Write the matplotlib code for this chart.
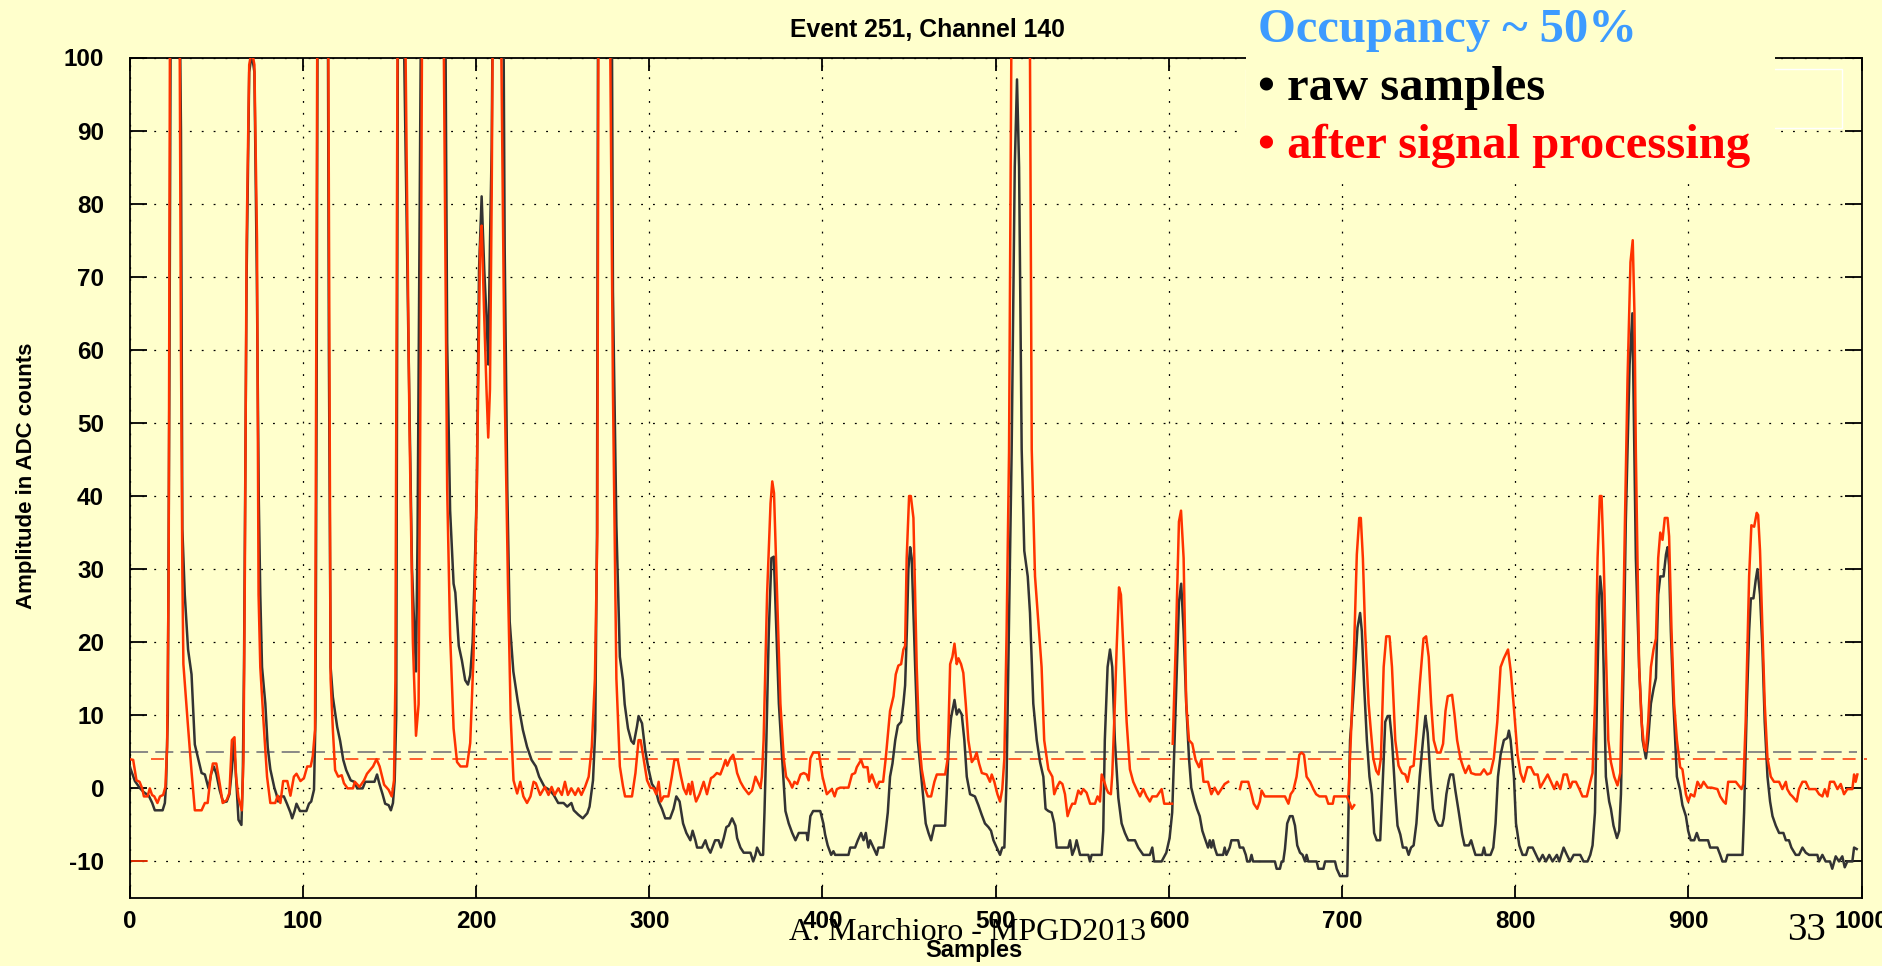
import numpy as np
import matplotlib
matplotlib.use("Agg")
import matplotlib.pyplot as plt
from matplotlib.patches import Rectangle

# raw ADC samples (sample index, amplitude); peaks above 100 run off the frame
raw_trace = [
    (0, 3), (3, 1), (6, 0), (8, -0.5), (11, -1), (13, -2), (14.5, -3), (19, -3), (20.3, -2),
    (21, 0.5), (22, 10), (23, 60), (24, 130), (28, 130), (29.6, 90), (30.4, 35.5), (31.8, 26.5),
    (33.7, 19), (35.7, 15.6), (37.6, 6), (39.5, 4.1), (41.5, 2.1), (43.4, 1.9), (45.5, 0),
    (47, 2), (48.5, 3), (50, 2), (52, -0.3), (54, -1.9), (56, -1.8), (57.6, -0.8), (59, 2.6),
    (60, 6.6), (61.4, 1.6), (62.8, -4.3), (64.5, -5), (65.3, 1.6), (66, 16.6), (67.5, 70),
    (69, 98), (70.5, 100.5), (72, 98), (73.4, 70), (74.5, 40), (75.4, 26.5), (76.4, 16.6),
    (78.3, 11.6), (79.7, 5.6), (81.2, 2.6), (83.5, 0.1), (84.7, -0.8), (85.7, -1.8), (87, -1.1),
    (89, -1.1), (90.8, -2.1), (92.8, -3.3), (93.8, -4.1), (95.2, -3.1), (96.3, -2.1),
    (98.3, -3.1), (102, -3.1), (103.5, -2.1), (104.8, -1.8), (106.4, -0.2), (107.3, 10),
    (108, 60), (108.8, 140), (114, 140), (115, 60), (116, 16.6), (117.3, 12.5), (119.8, 8.4),
    (121.5, 6.5), (123.3, 3.9), (125, 2.5), (127.6, 1.1), (129.6, 0.9), (131.4, 0), (134.5, 0),
    (136, 0.9), (141.3, 0.9), (142.8, 1.9), (144.2, 0.6), (146, -0.8), (147.5, -2.1),
    (149.5, -2.3), (150.8, -3), (152, -2), (153, 1.1), (153.9, 10), (155, 120), (158, 120),
    (158.5, 100), (161, 60), (163, 30), (165.3, 16), (166.2, 34.7), (168, 100), (168.5, 130),
    (181.5, 130), (182.4, 100), (183.3, 61), (185, 38), (187, 28), (188, 26.8), (190, 19.5),
    (191.8, 17.5), (193.7, 14.8), (195.3, 14.2), (196.6, 15.5), (198, 20), (199, 28),
    (200.4, 41), (201.7, 71), (203.2, 81), (204.7, 71), (206, 64.5), (207, 58), (208, 74.4),
    (209, 87.7), (210, 120), (215.5, 120), (216.5, 74), (218, 41), (219.4, 22.8), (221.5, 16),
    (224, 12), (227, 8), (229.4, 5.7), (232, 3.9), (234.5, 3), (236.4, 1.6), (239.5, 0.2),
    (242.3, -0.2), (244.8, -0.9), (247.4, -2), (250.5, -2), (252.6, -2.5), (255, -2),
    (256.4, -3), (259, -3.6), (261.6, -4.1), (264.2, -3.4), (265.5, -2.5), (267.5, 1.1),
    (268.8, 8), (269.8, 35), (270.6, 130), (278, 130), (279, 68), (281, 36), (283, 18),
    (284.8, 14.8), (285.8, 11.5), (287.7, 8.2), (289.6, 6.5), (291, 6.1), (292.9, 8.5),
    (293.8, 9.9), (295.8, 8.9), (297.7, 5.1), (299.6, 2.6), (301.5, 0.6), (303.5, -0.1),
    (305.4, -1.8), (307.3, -2.8), (309.2, -4.1), (312, -4.1), (314, -2.8), (315.6, -1.1),
    (317.5, -1.8), (319.5, -4.8), (321.4, -6.1), (323.7, -7.1), (325, -5.8), (326.6, -7.1),
    (327.6, -8.1), (330.4, -8.1), (332.4, -7.1), (333.7, -8.1), (335.3, -8.8), (338, -7.1),
    (340, -7.1), (341.4, -8.1), (343, -6.8), (344.5, -5.3), (345.9, -5.1), (347.8, -4.1),
    (349.7, -5.1), (350.7, -6.8), (352.6, -8.1), (354.5, -8.8), (358.4, -8.8), (360, -10),
    (361.3, -9.1), (362.2, -8.1), (364.2, -9.1), (365.7, -9.1), (366.5, -3.3), (367.6, 6.6),
    (369, 21.5), (370.5, 31.5), (371.9, 31.7), (373.4, 21.5), (374.8, 11.6), (376.7, 4.1),
    (378.6, -3.1), (380.5, -4.8), (382.5, -6.1), (384.4, -7.1), (386.3, -6.1), (390.8, -6.1),
    (391.5, -7.1), (393, -3.8), (394.6, -3.1), (398.7, -3.1), (400.5, -4.8), (401.5, -6.3),
    (403, -7.8), (405, -9.1), (406.3, -8.6), (407.3, -9.1), (415, -9.1), (416, -8.1),
    (418.8, -8.1), (420.4, -7.1), (422.3, -6.1), (423.7, -7.1), (425, -6.1), (426.5, -8.1),
    (427.5, -7.1), (429.4, -8.1), (431.3, -9.1), (432.3, -8.1), (435.2, -8.1), (436.5, -5.8),
    (437.7, -3.3), (439, 1.6), (440.4, 3.4), (442, 6.6), (443.5, 8.6), (445.4, 9.1),
    (446.7, 11.6), (447.7, 14.1), (448.7, 21.5), (449.6, 30), (450.6, 33), (451.5, 31.5),
    (452.5, 24), (453.5, 16.6), (455, 6.6), (457, 1.6), (458.3, -1.8), (459.6, -4.8),
    (461.2, -6.1), (462.7, -7.1), (464.6, -5.1), (470.8, -5.1), (471.7, -0.8), (473, 6.6),
    (474.2, 9.6), (476.2, 12.1), (477.5, 10.1), (478.8, 10.8), (480.4, 10.1), (481.9, 6.6),
    (483.3, 1.6), (485.2, -0.8), (488, -1.1), (490, -2.3), (491.9, -3.6), (493.8, -4.8),
    (495.8, -5.3), (497.3, -5.8), (498.7, -7.1), (500.6, -8.1), (502.5, -9.1), (503.8, -8.1),
    (505, -8.1), (506.3, 1.6), (507.3, 16.6), (509.2, 46), (511, 85), (512.3, 97), (513.5, 85),
    (515, 46.4), (516.5, 32.5), (518.5, 29), (519.8, 24), (521.7, 11.6), (523.7, 6.6),
    (525.6, 3.6), (527.5, 1.6), (528.8, -2.8), (530.4, -3.1), (532.3, -3.3), (533.8, -4.8),
    (535.2, -8.1), (541.9, -8.1), (542.9, -7.1), (544.2, -9.1), (545.8, -8.1), (546.7, -7.1),
    (548.7, -9.1), (553.5, -9.1), (554.4, -10), (555.4, -9.1), (561.2, -9.1), (562.1, -5.8),
    (563, 6.6), (564.6, 16.6), (566, 19), (567.3, 16.6), (568.8, 6.6), (570.8, -1.3),
    (572.7, -4.8), (574.6, -6.1), (576.5, -7.1), (580.4, -7.1), (582.3, -8.1), (585.2, -9.1),
    (589, -9.1), (590.4, -8.1), (591.5, -10), (595.8, -10), (598.5, -8.8), (600.4, -6.8),
    (601.9, -3.3), (603.3, 6.6), (604.6, 16.6), (605.8, 25.5), (607.1, 28), (608.5, 21.5),
    (610, 11.6), (611.6, 4.1), (612.9, 0.1), (614.9, -1.8), (616.2, -2.8), (617.8, -3.8),
    (619.3, -5.8), (620.7, -6.8), (622.6, -8.1), (623.6, -7.1), (624.5, -8.1), (625.5, -7.1),
    (626.4, -8.1), (627.8, -9.1), (631.3, -9.1), (632.2, -8.1), (633.2, -9.1), (635.1, -8.1),
    (636.1, -7.1), (640, -7.1), (640.9, -8.1), (642.9, -8.1), (644.4, -9.1), (645.2, -10),
    (646.7, -10), (647.7, -9.1), (648.6, -10), (661.2, -10), (662.2, -11), (664.1, -11),
    (665.1, -10), (666, -10), (667, -8.3), (668.3, -4.8), (669.9, -3.8), (671.4, -3.8),
    (672.8, -5.1), (674.1, -7.8), (675.7, -8.8), (677.2, -9.1), (678.6, -10), (679.5, -9.1),
    (680.5, -10), (685.3, -10), (686.3, -11), (689.2, -11), (690.2, -10), (695.9, -10),
    (696.9, -11), (698.8, -12), (703, -12), (703.7, -3.3), (704.6, 6.6), (706.2, 11.6),
    (707.5, 16.6), (708.9, 22), (710.4, 24), (711.4, 21.5), (712.7, 14.1), (714.3, 6.6),
    (715.8, 1.6), (717.2, -0.8), (718.5, -6.1), (720, -7.1), (722, -7.1), (723.6, 1.6),
    (724.9, 9.1), (726.3, 9.9), (727.4, 9.9), (728.8, 6.6), (730.7, -0.8), (732, -5.1),
    (733.6, -6.3), (735.1, -8.1), (737.1, -8.1), (738.4, -9.1), (739.8, -8.1), (741.3, -7.8),
    (742.9, -4.8), (744.8, 1.6), (746.7, 6.6), (748.1, 9.9), (749.4, 7.6), (751, 1.6),
    (752.5, -2.8), (753.9, -4.3), (755.8, -5.1), (757.7, -5.1), (758.7, -4.1), (760.2, -0.8),
    (761.6, 1.1), (762.5, 1.9), (764.1, 1.9), (765.4, -0.3), (767.4, -3.3), (769.3, -6.3),
    (770.7, -7.8), (773.2, -7.8), (774.5, -7.1), (775.7, -8.1), (777, -9.1), (780.9, -9.1),
    (781.9, -8.1), (782.8, -9.1), (785.7, -9.1), (787.3, -8.1), (788.6, -4.8), (790, 1.6),
    (791.5, 4.6), (793.4, 6.6), (795.4, 6.9), (796.3, 7.9), (797.3, 6.6), (799.2, 1.6),
    (800.4, -4.8), (802.3, -7.8), (804.2, -9.1), (806.2, -9.1), (807.5, -8.1), (810, -8.1),
    (812, -9.1), (813.8, -10), (815.8, -9.1), (817.7, -10), (819.6, -9.1), (821.5, -10),
    (824, -9.1), (825.4, -10), (827.9, -8.1), (829.8, -9.1), (831.7, -10), (833.7, -9.1),
    (837.5, -9.1), (839.4, -10), (841.7, -10), (843.3, -9.1), (844.6, -7.8), (846, -3.3),
    (847.1, 11.6), (848.5, 26.5), (849, 29), (850, 26.5), (851, 16.6), (852.3, 1.6),
    (854.2, -1.8), (855.2, -2.8), (856.7, -5.1), (858.7, -6.8), (860, -5.8), (861, -0.8),
    (862.5, 16.6), (863.8, 36.5), (866, 58), (867.6, 65), (869.6, 31.5), (871.5, 16.6),
    (873.5, 6.6), (875.4, 4.1), (876.7, 6.6), (878.3, 11.6), (879.8, 13.6), (881.2, 15.1),
    (882.5, 26.5), (883.7, 29), (885.6, 29), (887, 32), (887.9, 33), (888.8, 30.5),
    (889.8, 21.5), (891.3, 11.6), (893.3, 1.6), (895.2, -0.3), (896.5, -2.3), (898.5, -3.8),
    (899.8, -5.8), (901.3, -7.1), (903.3, -7.1), (904.8, -6.1), (906.2, -7.1), (911.3, -7.1),
    (912.5, -8.1), (916.7, -8.1), (918.3, -9.1), (919.6, -10), (921.5, -10), (922.5, -9.1),
    (931.2, -9.1), (932.1, -3.3), (933.7, 11.6), (935, 21.5), (936, 26), (937.5, 26),
    (938.8, 28.5), (939.8, 30), (941.3, 26.5), (942.7, 19), (944, 9.1), (945.6, 1.6),
    (947.1, -1.8), (948.5, -3.8), (950.4, -5.1), (952.3, -6.1), (954.8, -6.1), (956.2, -7.1),
    (958, -7.1), (959.4, -8.1), (961.9, -9.1), (963.8, -9.1), (965.8, -8.1), (967.7, -8.8),
    (969.6, -9.1), (974.4, -9.1), (975.4, -10), (977.3, -9.1), (979.2, -10), (981.7, -10),
    (983, -11), (985, -9.3), (986.9, -10), (988.8, -9.3), (990.2, -10.8), (991.7, -10),
    (994.6, -10), (995.6, -8.1), (997.1, -8.3),
]

# after signal processing; None marks a break in the trace
proc_trace = [
    (0, 4), (2, 3.9), (3.9, 1.1), (5.7, 0.9), (7.2, 0), (8.2, -1.1), (10.3, -1.1), (11.6, 0),
    (12.9, -0.9), (14.2, -1.1), (16, -2), (17.5, -1.1), (19.3, -0.9), (20.6, 0.2), (21.6, 5.7),
    (22.5, 30), (23.3, 110), (24.5, 140), (27.5, 140), (28.9, 100), (29.6, 60), (30.4, 29.5),
    (31, 17), (33.5, 9), (35.6, 2.6), (37.6, -3), (41.5, -3), (43.4, -2), (45, -2), (46.7, 1.6),
    (48, 3.4), (50, 3.4), (52, 0.6), (53.7, -2), (56, -1.6), (57.6, -0.6), (59, 6.6),
    (60.5, 7), (61.4, 1.6), (62.8, -1.3), (64.7, -3), (65.7, 4), (66.5, 30), (67.5, 75),
    (69, 99), (70.5, 101), (72, 99), (73.5, 75), (74.4, 26.5), (75.4, 16.6), (77.3, 9),
    (79.3, 1.6), (81.2, -2), (84, -2), (85.5, -1), (87, -2), (88.6, 1), (91, 1), (92.8, -1),
    (94.8, 1.6), (96.3, 2), (98.6, 1), (100.6, 1.4), (102.5, 3), (104.5, 3), (105.7, 4.4),
    (107, 8), (108.2, 100), (109, 140), (114, 140), (114.7, 100), (116, 15), (117.3, 8),
    (118.6, 2.5), (120.4, 1.6), (122.4, 1.8), (123.7, 0.7), (125.8, 0), (128.9, 0), (130, 0.9),
    (132.7, 0.2), (135.3, 1.1), (137, 2), (140.5, 3), (142.5, 4), (144.3, 3), (146.9, 0.5),
    (149.5, -0.2), (151.3, -1.1), (152.6, 1.1), (153.4, 14.8), (154.6, 100), (155.5, 130),
    (158.5, 130), (159.3, 100), (161.5, 50), (163.5, 20), (165.3, 7.2), (166.8, 11.5),
    (168, 60), (168.7, 100), (169.5, 140), (180.5, 140), (181.4, 100), (183.3, 41), (185, 21),
    (187, 8.2), (189, 3.6), (191, 3), (194.7, 3), (196.6, 6.2), (198.5, 18), (200.4, 41),
    (202.3, 74), (203.2, 77), (204.7, 64.5), (206, 54.6), (207, 48), (208, 54.6), (209, 81),
    (209.5, 100), (210.5, 140), (213.5, 140), (214.6, 100), (216.5, 54.6), (218.4, 28),
    (220, 9.5), (221.6, 1.1), (223.7, -0.7), (225.5, 0.9), (227.3, -1.1), (229.4, -2),
    (231.4, -1.1), (233.2, 0.9), (234.5, 0.7), (237, -0.9), (239.7, 0.2), (241.8, -0.9),
    (243.6, 0.2), (245.4, -0.9), (247.4, 0), (249.5, -0.9), (251.3, 0.9), (253, -0.9),
    (255, 0), (257.2, -0.9), (259, 0), (260.8, -0.9), (262.9, 0.2), (265, 1.6), (266.8, 5.7),
    (268.6, 15), (270, 35), (270.6, 100), (271.5, 140), (276.5, 140), (277.5, 100),
    (279, 54.6), (281, 15), (283, 3), (284.8, 0.3), (286, -1.1), (290, -1.1), (292, 2.1),
    (293.8, 6.6), (295, 6.6), (296.7, 4.1), (298.7, 1.1), (300.6, 0.1), (302.5, 0),
    (304, -0.8), (305.4, 0.9), (306.7, -1.8), (308.3, -1.1), (311, -1.1), (313, 1.6),
    (314.5, 3.9), (316.4, 3.9), (318.3, 1.6), (319.8, 0), (321.4, -0.8), (322.7, 0.6),
    (323.7, -0.8), (324.7, 0.9), (326, -0.8), (327, -1.8), (329, -0.8), (331.4, 0.9),
    (333.3, -0.8), (335.6, 1.4), (337, 1.6), (339, 2.1), (341, 1.9), (342.6, 2.9), (344, 3.9),
    (345, 3.1), (346.8, 4.1), (348.4, 4.6), (349.7, 3.4), (350.7, 2.1), (352.6, 0.9),
    (354.5, 0.1), (357.4, -0.8), (359.3, -0.3), (361.3, 1.6), (362.6, 0.9), (364.2, 0.1),
    (365, 1.6), (366, 6.6), (368, 26.5), (370, 39), (371, 42), (372, 40.4), (373.8, 26.5),
    (375.7, 11.6), (377.6, 4.1), (379, 1.6), (381, 0.9), (382.5, 0.1), (383.8, 0.9),
    (385.4, 0.6), (387.3, 1.9), (389.2, 2.1), (390.8, 1.9), (392, 1.1), (393, 4.1),
    (394.6, 4.9), (397.9, 4.9), (400, 1.6), (402.5, -0.8), (405.4, -0.1), (407, -1.1),
    (408.3, -0.1), (410.2, 0.1), (415, 0.1), (417, 1.9), (418.8, 2.1), (419.8, 2.9),
    (422.3, 3.9), (423.7, 2.9), (426, 2.9), (427, 0.9), (428.5, 1.9), (430, 0.9), (431.3, 0.1),
    (432.7, 0.9), (435, 0.9), (436.5, 4.1), (439, 10.6), (441, 12.6), (442.3, 15.6),
    (443.8, 16.8), (445.4, 17), (446.7, 19), (447.7, 19.5), (448.6, 31.5), (450, 40),
    (451, 40), (452.5, 37), (453.5, 26.5), (454.4, 16.6), (455.8, 6.6), (457.3, 2.6),
    (459.2, 0), (460.8, -1.1), (462.7, -1.1), (464.6, 0.9), (466, 1.9), (470.8, 1.9),
    (472.3, 4.1), (473.7, 17), (475, 18), (476.2, 19.8), (477.5, 17), (478.5, 17.8),
    (480, 17), (481.3, 15.8), (482.7, 11.6), (484.2, 6.6), (486.2, 3.6), (487.7, 4.1),
    (489, 4.9), (490.4, 3.4), (492, 2.1), (494.8, 1.9), (496.7, 0.9), (497.7, 1.9),
    (499.2, 0.9), (501, -0.8), (502.5, -1.8), (503.8, -0.1), (505, 4.1), (506.3, 21.5),
    (507.7, 46), (509, 100), (510, 140), (519, 140), (519.8, 100), (520.8, 46.4), (522.7, 29),
    (525, 21.5), (526.5, 16.6), (528, 6.6), (530.4, 2.6), (532.7, 1.6), (533.8, -0.8),
    (535.2, 0.1), (537, 0.9), (538.5, 0.6), (540, -0.8), (541.5, -3.8), (542.9, -2.8),
    (544.2, -2.1), (545.8, -2.1), (547.7, -0.3), (549.2, -0.8), (550.6, -0.1), (552.5, -0.6),
    (554.5, -2.1), (557.3, -2.1), (558.8, -1.1), (560.2, -1.8), (561.2, 1.9), (562.7, 0.9),
    (564, -0.1), (565, -0.6), (566.5, -0.8), (567.3, 1.9), (568.8, 11.6), (569.8, 19),
    (571.2, 27.5), (572.3, 26.5), (573.7, 19), (575.6, 9.1), (577.5, 2.6), (579.4, 0.9),
    (581.3, -0.1), (583.3, -1.1), (585.2, -0.1), (587.1, -1.1), (589, -1.8), (590.4, -1.1),
    (593, -1.1), (595.8, -0.1), (597.3, -2.1), (601.8, -2.1), None,
    (602.2, 6.1), (604, 20), (605.8, 36.5), (607, 38), (608.5, 31.5), (610, 11.6),
    (611.6, 6.6), (613.5, 6.1), (615.4, 3.9), (617.4, 2.9), (618.7, 3.9), (620, 0.9),
    (622.6, 0.9), (624.5, -0.8), (626.4, 0.1), (628.4, -0.8), (630.3, -0.1), (632.2, 0.6),
    (634.2, 0.9), None,
    (641, -0.1), (642, 0.9), (645.8, 0.9), (647.7, -0.8), (649, -2.1), (651, -2.8),
    (652.5, -1.8), (653.5, -0.3), (655.4, -1.1), (667, -1.1), (669, -2.1), (670.3, -0.8),
    (671.8, -0.3), (673.7, 1.6), (675.3, 4.6), (676.6, 4.9), (678, 4.6), (679.5, 1.6),
    (681.5, 0.9), (683.4, -0.1), (685, -0.8), (686.9, -1.1), (690.7, -1.1), (692, -2.1),
    (694.6, -2.1), (695.4, -1.1), (702.7, -1.1), (704.6, -2.1), (705.6, -2.8), (707, -2.3),
    None,
    (703.7, -0.8), (705, 6.6), (706.6, 16.6), (708.5, 32), (709.9, 37), (710.8, 37),
    (712, 31.5), (713.3, 21.5), (715.3, 11.6), (716.6, 7.9), (718, 4.1), (719.7, 2.4),
    (721, 1.9), (722.4, 4.1), (724, 16.6), (725.5, 20.8), (727.4, 20.8), (728.8, 16.6),
    (730.7, 6.6), (732.6, 3.1), (734.6, 2.1), (736.5, 1.9), (737.8, 0.9), (739.4, 2.9),
    (741.3, 3.1), (742.9, 7.6), (744.8, 14.1), (747, 20.5), (748.5, 20.8), (750, 18),
    (751.4, 11.6), (752.9, 6.6), (754.8, 4.9), (756.8, 4.9), (758.3, 6.1), (759.7, 10.6),
    (761, 12.6), (763.5, 12.8), (764.9, 10.1), (766.4, 6.6), (768.3, 4.1), (769.9, 2.9),
    (771.2, 2.1), (773.2, 3.1), (774.5, 2.1), (777, 1.9), (779.9, 1.9), (781.9, 2.6),
    (783.8, 1.9), (785.7, 2.1), (787.6, 4.1), (789.6, 9.1), (791.5, 16.6), (793.4, 17.8),
    (795.8, 19), (797.4, 16), (799.2, 11), (801.3, 4.6), (803, 2.1), (804.8, 0.9), (807, 2.9),
    (809, 2.9), (811, 1.9), (812.9, 1.9), (814.4, 0.1), (816.3, 0.9), (818.7, 1.9),
    (820.6, 0.9), (822.5, -0.1), (824, 0.9), (826, -0.1), (827.9, 1.9), (829.8, 1.9),
    (831.7, 0.1), (833, 0.9), (835, 0.9), (837, -0.1), (838.8, -1.1), (841.3, -1.1),
    (843.3, 0.9), (844.6, 2.1), (846, 11.6), (847.5, 31.5), (848.8, 40), (849.8, 40),
    (851, 31.5), (852.3, 19), (853.7, 6.6), (855.2, 3.6), (857.1, 1.6), (859, 0.4),
    (860.6, 2.1), (861.9, 16.6), (863.3, 36.5), (864.8, 56), (866.5, 72), (867.8, 75),
    (868.8, 65), (869.6, 46), (871.5, 16.6), (872.9, 9.1), (874.4, 5.6), (875.4, 5.1),
    (876.7, 9.1), (878.3, 16.6), (879.8, 19), (881.2, 20.5), (882.5, 31.5), (883.7, 35),
    (885, 34), (886.3, 37), (887.9, 37), (888.8, 34.5), (890.2, 21.5), (891.7, 11.6),
    (893.3, 6.6), (895.2, 2.9), (896.5, 2.6), (898.5, -0.8), (899.8, -1.8), (901.3, -0.8),
    (903.3, -1.1), (905.2, 0.9), (907.1, 0.1), (908.7, 0.9), (911, 0.1), (913.3, 0.1),
    (916.7, -0.1), (918.3, -1.1), (920.2, -1.8), (921.5, -2.1), (922.9, 0.9), (927.3, 0.9),
    (930.6, -0.1), (931.7, 0.6), (933, 9.1), (935, 29), (936.3, 36), (937.9, 35.8),
    (939.4, 37.7), (940.2, 37.4), (941.3, 32.5), (942.7, 21.5), (944, 11.6), (945.6, 4.1),
    (947.5, 1.6), (949.4, 0.9), (952.3, 0.9), (954.2, -0.1), (956.2, 0.9), (957, -0.1),
    (958.7, -0.8), (960, -1.1), (962.5, -1.8), (963.8, -0.1), (965.8, 0.9), (967.7, 0.9),
    (969.6, -0.1), (973.5, -0.1), (975.4, -0.8), (977.3, -1.1), (978.7, -0.1), (980.2, -1.1),
    (981.7, 0.9), (984, 0.9), (986, -0.1), (987.9, 0.6), (989.8, -0.8), (991.7, -0.1),
    (994.6, -0.1), (995.6, 1.9), (996.5, 0.9), (997.5, 1.9),
]

raw_threshold = 5
proc_threshold = 4
proc_threshold_spans = [(12.5, 20), (112, 1003)]

x_ticks = list(range(0, 1001, 100))
y_ticks = list(range(-10, 101, 10))

title = "Event 251, Channel 140"
notes = [("Occupancy ~ 50%", "#3d9bff"),
         ("\u2022 raw samples", "black"),
         ("\u2022 after signal processing", "#ff0000")]


def unpack(trace):
    xs = [np.nan if p is None else p[0] for p in trace]
    ys = [np.nan if p is None else p[1] for p in trace]
    return np.array(xs, float), np.array(ys, float)


W, H = 1883, 966
bg = "#ffffcc"
red = "#ff3300"

plt.rcParams["font.family"] = ["Liberation Sans", "DejaVu Sans"]
plt.rcParams["font.weight"] = "bold"
plt.rcParams["axes.unicode_minus"] = False

fig = plt.figure(figsize=(W / 100, H / 100), dpi=100, facecolor=bg)
ax = fig.add_axes([129.7 / W, 1 - 898 / H, (1861.7 - 129.7) / W, (898 - 57.5) / H])
ax.set_facecolor(bg)

raw_x, raw_y = unpack(raw_trace)
proc_x, proc_y = unpack(proc_trace)

# thresholds
ax.plot([0, 997], [raw_threshold] * 2, color="#808080", lw=1.3, dashes=(10, 4), zorder=2)
for x0, x1 in proc_threshold_spans:
    ax.plot([x0, x1], [proc_threshold] * 2, color=red, lw=1.1, dashes=(8.5, 5.5),
            zorder=2, clip_on=False)
ax.plot([0, 10], [-10, -10], color=red, lw=1.2, zorder=2)

ax.plot(raw_x, raw_y, color="#333333", lw=1.8, zorder=3)
ax.plot(proc_x, proc_y, color=red, lw=1.8, zorder=4)

ax.set_xlim(0, 1000)
ax.set_ylim(-15, 100)
ax.set_xticks(x_ticks)
ax.set_yticks(y_ticks)
ax.grid(True, color="black", lw=0.9, linestyle=(0, (1.5, 8)))
ax.tick_params(axis="y", direction="in", length=12.2, width=1.3, left=True, right=True,
               pad=18.5, labelsize=17.5)
ax.tick_params(axis="x", direction="in", length=9, width=1.3, top=True, bottom=True,
               pad=8.5, labelsize=17.5)
for s in ax.spines.values():
    s.set_linewidth(1.3)

fig.text(927 / W, 1 - 30 / H, title, ha="center", va="center", fontsize=17.8)
fig.text(27 / W, 1 - 476 / H, "Amplitude in ADC counts", rotation=90,
         ha="center", va="center", fontsize=16)
fig.text(974 / W, 1 - 951 / H, "Samples", ha="center", va="center", fontsize=17)

# note box sitting over the top frame
fig.add_artist(Rectangle((1246 / W, 1 - 128 / H), (1842 - 1246) / W, (128 - 69) / H,
                         transform=fig.transFigure, facecolor="none", edgecolor="white",
                         lw=1, zorder=1))
fig.add_artist(Rectangle((1246 / W, 1 - 183 / H), (1775 - 1246) / W, 183 / H,
                         transform=fig.transFigure, facecolor=bg, edgecolor="none",
                         zorder=2))
for i, (txt, col) in enumerate(notes):
    fig.text(1258 / W, 1 - (42 + 58 * i) / H, txt, color=col, fontsize=35,
             family=["Liberation Serif", "DejaVu Serif"], weight="bold",
             va="baseline", ha="left", zorder=3)

fig.text(789 / W, 1 - 940 / H, "A. Marchioro - MPGD2013", fontsize=23,
         family=["Liberation Serif", "DejaVu Serif"], weight="normal", va="baseline")
fig.text(1787 / W, 1 - 940 / H, "33", fontsize=28,
         family=["Liberation Serif", "DejaVu Serif"], weight="normal", va="baseline")

fig.savefig("out.png", dpi=100, facecolor=bg)
